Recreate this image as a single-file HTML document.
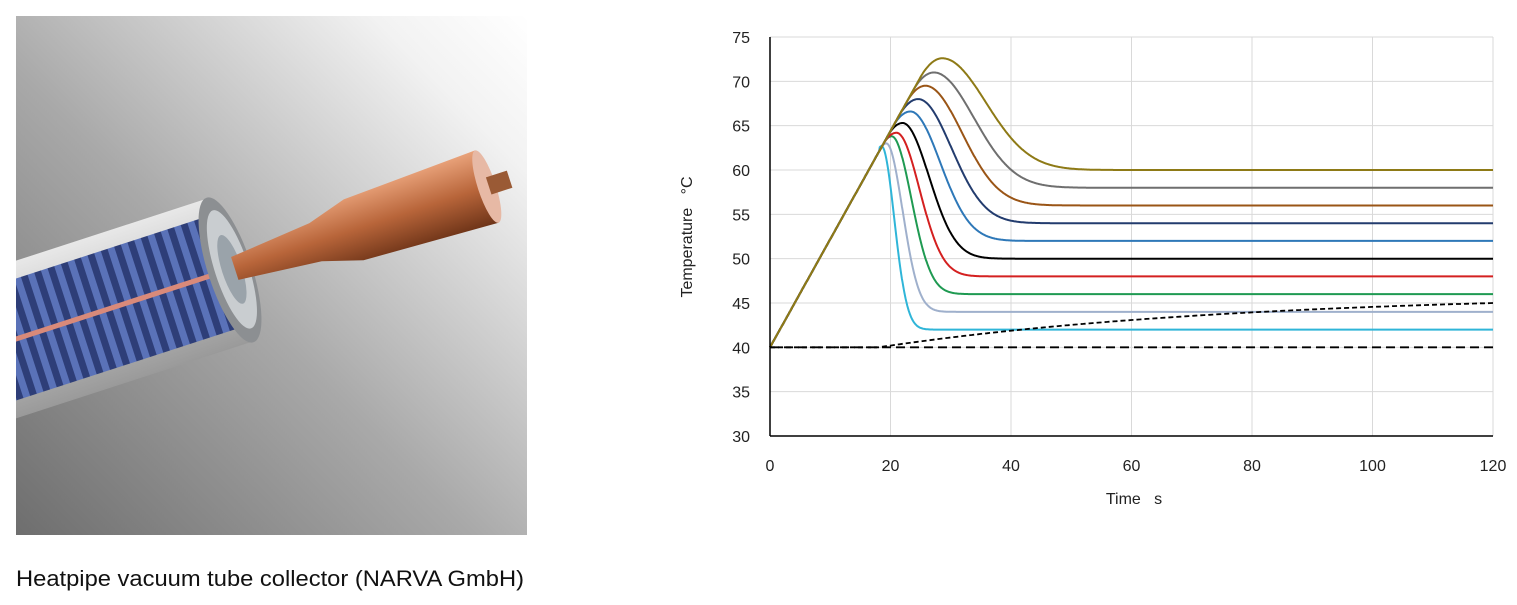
<!DOCTYPE html>
<html><head><meta charset="utf-8"><style>
html,body{margin:0;padding:0;background:#fff;width:1517px;height:605px;overflow:hidden}
text{font-family:"Liberation Sans",sans-serif}
</style></head><body>
<svg id="s" width="1517" height="605" xmlns="http://www.w3.org/2000/svg">
<defs>
<linearGradient id="bg" x1="0" y1="1" x2="1" y2="0">
<stop offset="0" stop-color="#6e6e6e"/><stop offset="0.45" stop-color="#a9a9a9"/><stop offset="0.85" stop-color="#f2f2f2"/><stop offset="1" stop-color="#ffffff"/></linearGradient>
<linearGradient id="cu" x1="0" y1="0" x2="0" y2="1">
<stop offset="0" stop-color="#e9a27a"/><stop offset="0.5" stop-color="#b8653a"/><stop offset="1" stop-color="#6e3418"/></linearGradient>
<linearGradient id="gl" x1="0" y1="0" x2="0" y2="1">
<stop offset="0" stop-color="#e8e8e8"/><stop offset="1" stop-color="#9a9a9a"/></linearGradient>
<pattern id="fin" width="14" height="40" patternUnits="userSpaceOnUse">
<rect width="14" height="40" fill="#2e3e78"/><rect x="2" width="7" height="40" fill="#5a72b8"/></pattern>
<clipPath id="pc"><rect x="16" y="16" width="511" height="519"/></clipPath>
</defs>
<rect x="16" y="16" width="511" height="519" fill="url(#bg)"/>
<g clip-path="url(#pc)">
<g transform="translate(230,270) rotate(-18)">
<rect x="-300" y="-75" width="300" height="150" fill="url(#gl)"/>
<rect x="-300" y="-58" width="290" height="116" fill="url(#fin)"/>
<rect x="-300" y="-3" width="290" height="5" fill="#d98a7a"/>
<ellipse cx="0" cy="0" rx="22" ry="76" fill="#8c8f92"/>
<ellipse cx="2" cy="0" rx="17" ry="62" fill="#c9cdd0"/>
<ellipse cx="2" cy="0" rx="10" ry="36" fill="#9aa3aa"/>
<path d="M5,-12 L90,-20 L130,-32 L270,-38 L270,38 L130,32 L90,20 L5,12Z" fill="url(#cu)"/>
<ellipse cx="270" cy="0" rx="9" ry="38" fill="#e7b9a5"/>
<rect x="272" y="-9" width="22" height="18" fill="#9a5a35"/>
</g>
</g>
<text x="16" y="586" font-size="22" fill="#111" textLength="508" lengthAdjust="spacingAndGlyphs">Heatpipe vacuum tube collector (NARVA GmbH)</text>
<g id="chart"></g>
</svg>
<script>
var g=document.getElementById('chart');
function X(t){return 770+t*723/120}
function Y(v){return 436-(v-30)*399/45}
var h='';
for(var v=35;v<=75;v+=5)h+='<line x1="770" x2="1493" y1="'+Y(v)+'" y2="'+Y(v)+'" stroke="#d9d9d9"/>';
for(var t=20;t<=120;t+=20)h+='<line y1="37" y2="436" x1="'+X(t)+'" x2="'+X(t)+'" stroke="#d9d9d9"/>';
for(var v=30;v<=75;v+=5)h+='<text x="750" y="'+(Y(v)+6)+'" font-size="16" text-anchor="end" fill="#222">'+v+'</text>';
for(var t=0;t<=120;t+=20)h+='<text x="'+X(t)+'" y="471" font-size="16" text-anchor="middle" fill="#222">'+t+'</text>';
h+='<text x="1134" y="504" font-size="16" text-anchor="middle" fill="#222" xml:space="preserve">Time   s</text>';
h+='<text transform="translate(692,237) rotate(-90)" font-size="16" text-anchor="middle" fill="#222" xml:space="preserve">Temperature   °C</text>';
var cs=[['#2fb5d8',62.7,18.5,42,3.0],['#9fb0cc',63.0,19.3,44,3.8],['#1f9a52',63.8,20.2,46,4.6],['#d42020',64.2,21,48,5.4],['#000000',65.3,22,50,6.2],['#2e78b8',66.6,23.3,52,7.0],['#233c6e',68,24.6,54,7.8],['#9a5516',69.5,25.8,56,8.6],['#6f6f6f',71,27.2,58,9.4],['#8e7a16',72.6,28.6,60,10.2]];
var s=1.22;
function L(t){return 40+s*t}
cs.forEach(function(c){var P=c[1],T=c[2],F=c[3],w=c[4];var d=Math.max(2*(L(T)-P)/s,0.4);
var pts=[];for(var t=0;t<=120;t+=0.1){var y;
if(t<T-d)y=L(t);else if(t<=T)y=P-s*(T-t)*(T-t)/(2*d);else{var u=(t-T)/w;y=F+(P-F)*Math.exp(-u*u);}
pts.push(X(t).toFixed(1)+','+Y(y).toFixed(1));}
h+='<polyline fill="none" stroke="'+c[0]+'" stroke-width="2" points="'+pts.join(' ')+'"/>';});
var p2=[];for(var t=0;t<=120;t+=0.5){var y=t<18?40:40+5*(1-Math.exp(-(t-18)/60))/(1-Math.exp(-102/60));p2.push(X(t).toFixed(1)+','+Y(y).toFixed(1));}
h+='<polyline fill="none" stroke="#000" stroke-width="1.8" stroke-dasharray="5,3" points="'+p2.join(' ')+'"/>';
h+='<line x1="770" x2="1493" y1="'+Y(40)+'" y2="'+Y(40)+'" stroke="#000" stroke-width="1.8" stroke-dasharray="9,5"/>';
h+='<line x1="770" x2="770" y1="37" y2="436" stroke="#000" stroke-width="1.5"/><line x1="770" x2="1493" y1="436" y2="436" stroke="#000" stroke-width="1.5"/>';
g.innerHTML=h;
</script>
</body></html>
